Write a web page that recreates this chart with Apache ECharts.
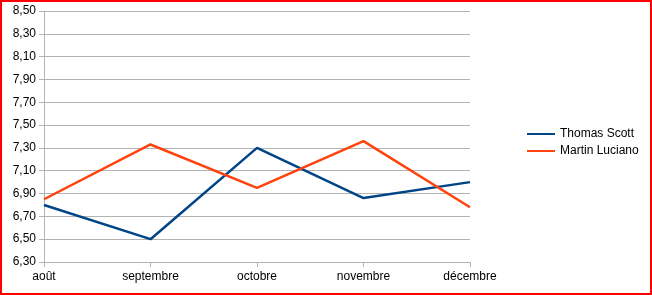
<!DOCTYPE html>
<html><head><meta charset="utf-8">
<script src="https://cdn.jsdelivr.net/npm/echarts@6/dist/echarts.min.js"></script>
<style>
html,body{margin:0;padding:0;background:#fff;}
#c{width:652px;height:295px;box-sizing:border-box;border:2px solid #ff0000;}
</style></head>
<body><div id="c"></div>
<script>
const categories = ['août','septembre','octobre','novembre','décembre'];
const seriesNames = ['Thomas Scott','Martin Luciano'];
const thomasScott = [6.80, 6.50, 7.30, 6.86, 7.00];
const martinLuciano = [6.85, 7.33, 6.95, 7.36, 6.78];
const yMin = 6.30, yMax = 8.50, yStep = 0.20;

const chart = echarts.init(document.getElementById('c'), null, {renderer:'canvas'});
const gridColor = '#b3b3b3';
const font = 'Liberation Sans, Arial, sans-serif';
chart.setOption({
  animation:false,
  textStyle:{fontFamily:font},
  grid:{left:42,right:180,top:9,bottom:31,containLabel:false},
  legend:{
    orient:'vertical', left:520, top:120, itemWidth:28, itemHeight:2, itemGap:3,
    icon:'rect',
    textStyle:{fontFamily:font,fontSize:12,color:'#000',lineHeight:14},
    data:seriesNames
  },
  xAxis:{
    type:'category', data:categories, boundaryGap:false,
    axisLine:{lineStyle:{color:gridColor,width:1}},
    axisTick:{show:true,length:5,lineStyle:{color:gridColor},alignWithLabel:true},
    axisLabel:{color:'#000',fontSize:12,fontFamily:font,margin:9,interval:0},
    splitLine:{show:false}
  },
  yAxis:{
    type:'value', min:yMin, max:yMax, interval:yStep,
    axisLine:{show:true,lineStyle:{color:gridColor,width:1}},
    axisTick:{show:true,length:5,lineStyle:{color:gridColor}},
    axisLabel:{color:'#000',fontSize:12,fontFamily:font,margin:8,
      formatter:v=>v.toFixed(2).replace('.',',')},
    splitLine:{show:true,lineStyle:{color:gridColor,width:1}}
  },
  series:[
    {name:seriesNames[0],type:'line',data:thomasScott,symbol:'none',
     lineStyle:{color:'#004586',width:2.5},itemStyle:{color:'#004586'}},
    {name:seriesNames[1],type:'line',data:martinLuciano,symbol:'none',
     lineStyle:{color:'#ff420e',width:2.5},itemStyle:{color:'#ff420e'}}
  ]
});
</script></body></html>
